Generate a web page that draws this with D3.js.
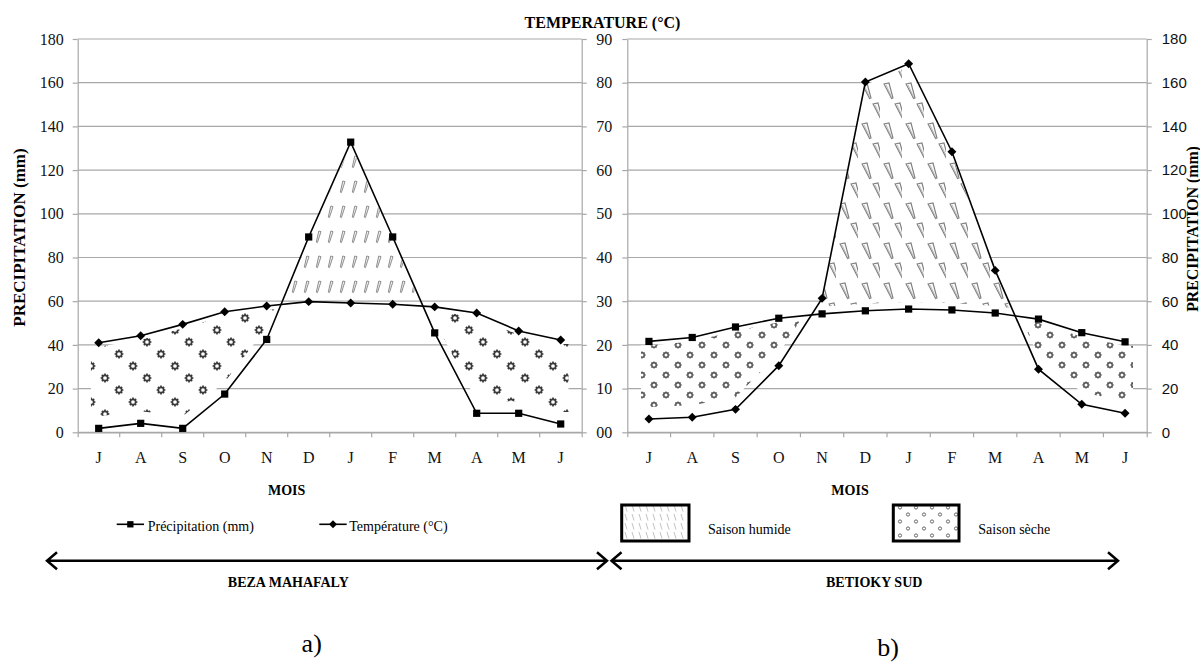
<!DOCTYPE html>
<html>
<head>
<meta charset="utf-8">
<script src="https://cdn.jsdelivr.net/npm/d3@7"></script>
<style>
  body { margin: 0; background: #fff; }
  svg { display: block; font-family: "Liberation Serif", "Times New Roman", serif; }
</style>
</head>
<body>
<script>
// Monthly climate data (July -> June), two stations
const months = ["J", "A", "S", "O", "N", "D", "J", "F", "M", "A", "M", "J"];
const bezaPrecip = [1.8, 4.1, 1.8, 17.5, 42.5, 89.4, 132.8, 89.4, 45.5, 8.7, 8.7, 3.8];
const bezaTemp = [20.5, 22.1, 24.7, 27.6, 28.9, 29.9, 29.6, 29.3, 28.7, 27.3, 23.2, 21.1];
const betiokyPrecip = [6.1, 6.9, 10.5, 30.5, 61.3, 160.3, 168.7, 128.4, 74.1, 28.9, 12.8, 8.7];
const betiokyTemp = [20.8, 21.7, 24.1, 26.1, 27.1, 27.8, 28.2, 28.0, 27.3, 25.9, 22.8, 20.7];
const precipTicks = [0, 20, 40, 60, 80, 100, 120, 140, 160, 180];
const tempTicks = [0, 10, 20, 30, 40, 50, 60, 70, 80, 90];
const tempTickLabels = ["00", "10", "20", "30", "40", "50", "60", "70", "80", "90"];

const W = 1200, H = 664;
const svg = d3.select("body").append("svg").attr("width", W).attr("height", H);
const defs = svg.append("defs");

const yTop = 39, yBot = 432.3;
const yP = d3.scaleLinear().domain([0, 180]).range([yBot, yTop]);
const yT = d3.scaleLinear().domain([0, 90]).range([yBot, yTop]);
const GRID = "#a8a8a8";
const SERIF = '"Liberation Serif", "Times New Roman", serif';
const SANS = '"Liberation Sans", Arial, sans-serif';

// ---- fill patterns ----
function gear(sel, cx, cy, r0, r1, color, w) {
  sel.append("circle").attr("cx", cx).attr("cy", cy).attr("r", r0)
    .attr("fill", "#fff").attr("stroke", color).attr("stroke-width", w);
  let d = "";
  for (let k = 0; k < 8; k++) {
    const a = k * Math.PI / 4;
    d += `M${cx + r0 * Math.cos(a)},${cy + r0 * Math.sin(a)}L${cx + r1 * Math.cos(a)},${cy + r1 * Math.sin(a)}`;
  }
  sel.append("path").attr("d", d).attr("stroke", color).attr("stroke-width", w);
}
function pattern(id, w, h) {
  const p = defs.append("pattern").attr("id", id)
    .attr("patternUnits", "userSpaceOnUse").attr("width", w).attr("height", h);
  p.append("rect").attr("width", w).attr("height", h).attr("fill", "#fff");
  return p;
}
// dry season (left panel): star-like rings
const dryA = pattern("dryA", 42, 36);
[[7, 6], [21, 18], [35, 30]].forEach(([x, y]) => gear(dryA, x, y, 2.7, 4.4, "#3a3a3a", 1.7));
// dry season (right panel): smaller rings, denser
const dryB = pattern("dryB", 24, 20);
[[6, 5], [18, 15]].forEach(([x, y]) => gear(dryB, x, y, 2.2, 3.6, "#555", 1.4));
// wet season (left panel): small slanted drops
const wetA = pattern("wetA", 12, 25);
wetA.append("path").attr("d", "M6.8,6 L9,6.6 L5.4,17.6 L4.3,17.1 Z")
  .attr("fill", "#f0f0f0").attr("stroke", "#8e8e8e").attr("stroke-width", 1);
// wet season (right panel): larger tilted wedges in diagonal rows
const wetB = pattern("wetB", 22, 40);
[[4, 4], [15, 24]].forEach(([x, y]) => {
  wetB.append("path").attr("d", `M${x},${y} L${x + 5},${y - 1} L${x + 9},${y + 14} L${x + 7.6},${y + 14.6} Z`)
    .attr("fill", "#fafafa").attr("stroke", "#7e7e7e").attr("stroke-width", 1.1);
  wetB.append("path").attr("d", `M${x + 2},${y + 1} L${x + 7.4},${y + 12.6}`)
    .attr("stroke", "#a8a8a8").attr("stroke-width", 0.8);
});
// legend swatches
const wetL = pattern("wetL", 7, 9);
wetL.append("path").attr("d", "M2,1 L4,7.5").attr("stroke", "#c2c2c2").attr("stroke-width", 1);
const dotL = pattern("dotL", 16, 14);
[[4, 3.5], [12, 10.5]].forEach(([x, y]) => dotL.append("circle").attr("cx", x).attr("cy", y).attr("r", 1.6)
  .attr("fill", "none").attr("stroke", "#666").attr("stroke-width", 1));

// ---- one climate diagram ----
function panel(cfg) {
  const g = svg.append("g");
  const x = d3.scaleBand().domain(d3.range(12)).range([cfg.x0, cfg.x1]);
  const cx = i => x(i) + x.bandwidth() / 2;

  // horizontal gridlines
  g.append("g").selectAll("line").data(precipTicks).join("line")
    .attr("x1", cfg.x0).attr("x2", cfg.x1)
    .attr("y1", d => yP(d)).attr("y2", d => yP(d))
    .attr("stroke", GRID).attr("stroke-width", 1.2);

  const styleAxis = (sel, size, family) => {
    sel.select(".domain").attr("stroke", GRID).attr("stroke-width", 1.2);
    sel.selectAll(".tick line").attr("stroke", GRID).attr("stroke-width", 1.2);
    sel.selectAll("text").attr("font-size", size).attr("font-family", family).attr("fill", "#111");
  };

  // left axis
  g.append("g").attr("transform", `translate(${cfg.x0},0)`)
    .call(cfg.leftAxis).call(s => styleAxis(s, 16, SERIF));
  // right axis
  g.append("g").attr("transform", `translate(${cfg.x1},0)`)
    .call(cfg.rightAxis).call(s => styleAxis(s, cfg.rightFont[0], cfg.rightFont[1]));

  // month axis
  g.append("g").attr("transform", `translate(0,${yBot})`)
    .call(d3.axisBottom(x).tickFormat(i => months[i]).tickSizeInner(0).tickSizeOuter(5).tickPadding(19))
    .call(s => styleAxis(s, 16, SERIF));
  g.append("g").selectAll("line").data(d3.range(1, 12)).join("line")
    .attr("x1", i => x(i)).attr("x2", i => x(i))
    .attr("y1", yBot).attr("y2", yBot + 5)
    .attr("stroke", GRID).attr("stroke-width", 1.2);

  const pts = d3.range(12).map(i => ({ x: cx(i), p: cfg.precip[i], t: cfg.temp[i] }));
  const ext = [{ ...pts[0], x: pts[0].x - 8 }, ...pts, { ...pts[11], x: pts[11].x + 8 }];

  // wet season: below rainfall curve, above temperature curve
  const id = cfg.id;
  defs.append("clipPath").attr("id", `wetClip-${id}`).append("path")
    .attr("d", d3.area().x(d => d.x).y0(yTop).y1(d => yT(d.t) - 7)(pts));
  g.append("path").attr("clip-path", `url(#wetClip-${id})`)
    .attr("d", d3.area().x(d => d.x).y0(d => yP(d.p) + 3).y1(yBot)(pts))
    .attr("fill", `url(#${cfg.wet})`);

  // dry season: below temperature curve, above rainfall curve
  defs.append("clipPath").attr("id", `dryClip-${id}`).append("path")
    .attr("d", d3.area().x(d => d.x).y0(d => yT(d.t) + 4).y1(yBot)(ext));
  g.append("path").attr("clip-path", `url(#dryClip-${id})`)
    .attr("d", d3.area().x(d => d.x).y0(yTop).y1(d => yP(d.p) - 12)(ext))
    .attr("fill", `url(#${cfg.dry})`);

  // curves
  const series = [
    { acc: d => yP(d.p), marker: cfg.precipMarker },
    { acc: d => yT(d.t), marker: cfg.tempMarker }
  ];
  series.forEach(s => {
    g.append("path").attr("d", d3.line().x(d => d.x).y(s.acc)(pts))
      .attr("fill", "none").attr("stroke", "#000").attr("stroke-width", 1.6);
    g.append("g").selectAll("path").data(pts).join("path")
      .attr("d", s.marker === "square" ? d3.symbol(d3.symbolSquare, 52)() : d3.symbol(d3.symbolSquare, 40)())
      .attr("transform", d => `translate(${d.x},${s.acc(d)})` + (s.marker === "diamond" ? " rotate(45)" : ""))
      .attr("fill", "#000");
  });
}

panel({
  id: "beza", x0: 77.7, x1: 581.7,
  precip: bezaPrecip, temp: bezaTemp,
  precipMarker: "square", tempMarker: "diamond",
  wet: "wetA", dry: "dryA",
  leftAxis: d3.axisLeft(yP).tickValues(precipTicks).tickSize(5).tickSizeOuter(0).tickPadding(9),
  rightAxis: d3.axisRight(yP).tickValues(precipTicks).tickSize(5).tickSizeOuter(0).tickFormat(""),
  rightFont: [16, SERIF]
});
panel({
  id: "betioky", x0: 627.3, x1: 1146.7,
  precip: betiokyPrecip, temp: betiokyTemp,
  precipMarker: "diamond", tempMarker: "square",
  wet: "wetB", dry: "dryB",
  leftAxis: d3.axisLeft(yT).tickValues(tempTicks).tickFormat((d, i) => tempTickLabels[i])
    .tickSize(5).tickSizeOuter(0).tickPadding(10),
  rightAxis: d3.axisRight(yP).tickValues(precipTicks).tickSize(5).tickSizeOuter(0).tickPadding(10),
  rightFont: [15, SANS]
});

// ---- titles ----
const text = (x, y, s, opts = {}) => svg.append("text")
  .attr("x", x).attr("y", y).text(s)
  .attr("text-anchor", opts.anchor || "middle")
  .attr("font-size", opts.size || 14)
  .attr("font-weight", opts.bold ? "bold" : "normal")
  .attr("font-family", SERIF).attr("fill", "#000")
  .attr("transform", opts.rotate ? `rotate(-90,${x},${y})` : null);

text(602.5, 28, "TEMPERATURE (°C)", { bold: true, size: 16 });
text(24.5, 237.5, "PRECIPITATION (mm)", { bold: true, size: 17, rotate: true });
text(1197.5, 229, "PRECIPITATION (mm)", { bold: true, size: 15.8, rotate: true });
text(286.7, 495, "MOIS", { bold: true });
text(850, 495, "MOIS", { bold: true });

// ---- legend: curves ----
const legendLine = (x1, x2, y, marker) => {
  svg.append("line").attr("x1", x1).attr("x2", x2).attr("y1", y).attr("y2", y)
    .attr("stroke", "#000").attr("stroke-width", 1.6);
  svg.append("path")
    .attr("d", d3.symbol(d3.symbolSquare, marker === "square" ? 40 : 32)())
    .attr("transform", `translate(${(x1 + x2) / 2},${y})` + (marker === "diamond" ? " rotate(45)" : ""))
    .attr("fill", "#000");
};
legendLine(116.7, 144, 524.3, "square");
text(147.7, 530.5, "Précipitation (mm)", { anchor: "start" });
legendLine(319.3, 346.7, 524.3, "diamond");
text(349.3, 530.5, "Température (°C)", { anchor: "start" });

// ---- legend: seasons ----
svg.append("rect").attr("x", 621.7).attr("y", 505).attr("width", 67.3).attr("height", 36)
  .attr("fill", "url(#wetL)").attr("stroke", "#000").attr("stroke-width", 3);
text(708, 534, "Saison humide", { anchor: "start" });
svg.append("rect").attr("x", 893.3).attr("y", 505).attr("width", 65.7).attr("height", 36)
  .attr("fill", "url(#dotL)").attr("stroke", "#000").attr("stroke-width", 3);
text(978.3, 534, "Saison sèche", { anchor: "start" });

// ---- station arrows ----
function arrow(xa, xb, y) {
  const h = 8.5, L = 10;
  svg.append("path")
    .attr("d", `M${xa},${y}H${xb}M${xa + L},${y - h}L${xa},${y}L${xa + L},${y + h}M${xb - L},${y - h}L${xb},${y}L${xb - L},${y + h}`)
    .attr("fill", "none").attr("stroke", "#000").attr("stroke-width", 2.5);
}
arrow(47, 607, 560.7);
arrow(611.5, 1118, 560.7);
text(288.3, 587.3, "BEZA MAHAFALY", { bold: true });
text(874.2, 587.3, "BETIOKY SUD", { bold: true });

text(311.7, 651.5, "a)", { size: 26 });
text(888, 656, "b)", { size: 26 });
</script>
</body>
</html>
